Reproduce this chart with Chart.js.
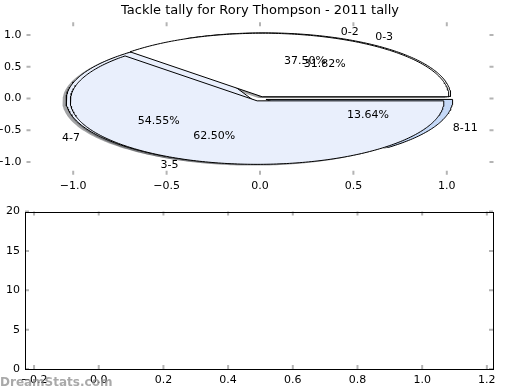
<!DOCTYPE html>
<html>
<head>
<meta charset="utf-8">
<script src="https://cdn.jsdelivr.net/npm/chart.js@4.4.1/dist/chart.umd.min.js"></script>
<style>
  html, body { margin: 0; padding: 0; background: #fff; }
  #wrap { position: relative; width: 520px; height: 390px; }
  canvas { position: absolute; left: 0; }
  #pieChart { top: 0; }
  #emptyChart { top: 200px; }
</style>
</head>
<body>
<div id="wrap">
  <canvas id="pieChart" width="520" height="200"></canvas>
  <canvas id="emptyChart" width="520" height="190"></canvas>
</div>
<script>
const TITLE = "Tackle tally for Rory Thompson - 2011 tally";
const WATERMARK = "DreamStats.com";

// pie drawn on top
const tallyLabelsA = ["0-2", "3-5"];
const tallyCountsA = [3, 5];
// pie drawn underneath
const tallyLabelsB = ["0-3", "4-7", "8-11"];
const tallyCountsB = [7, 12, 3];

const pieXTicks = [-1.0, -0.5, 0.0, 0.5, 1.0];
const pieYTicks = [-1.0, -0.5, 0.0, 0.5, 1.0];
const emptyXTicks = [-0.2, 0.0, 0.2, 0.4, 0.6, 0.8, 1.0, 1.2];
const emptyYTicks = [0, 5, 10, 15, 20];

const FONT = "'DejaVu Sans', sans-serif";
const TICK_GREY = "#b4b4b4";
const pieStyleA = { colors: ["#ffffff", "#e9effc"], explode: [0.03, 0.04] };
const pieStyleB = { colors: ["#ffffff", "#e9effc", "#c5d9f8"], explode: [0.04, 0.045, 0.035] };

function wedges(counts, labels, style) {
  const total = counts.reduce((a, b) => a + b, 0);
  let start = 0;
  return counts.map((count, i) => {
    const share = count / total;
    const end = start + share * 360;
    const mid = ((start + end) / 2) * Math.PI / 180;
    const w = {
      label: labels[i], share, start, end, mid,
      cx: style.explode[i] * Math.cos(mid),
      cy: style.explode[i] * Math.sin(mid),
      color: style.colors[i],
    };
    start = end;
    return w;
  });
}

// wedge outline in data units, the scales turn it into pixels
function outline(w, dx = 0, dy = 0) {
  const ox = w.cx + dx, oy = w.cy + dy;
  const pts = [{ x: ox, y: oy }];
  const steps = Math.max(2, Math.ceil(w.end - w.start));
  for (let k = 0; k <= steps; k++) {
    const a = (w.start + (w.end - w.start) * k / steps) * Math.PI / 180;
    pts.push({ x: ox + Math.cos(a), y: oy + Math.sin(a) });
  }
  pts.push({ x: ox, y: oy });
  return pts;
}

function shadowColor(hex) {
  const n = parseInt(hex.slice(1), 16);
  const r = Math.round(((n >> 16) & 255) * 0.3);
  const g = Math.round(((n >> 8) & 255) * 0.3);
  const b = Math.round((n & 255) * 0.3);
  return `rgba(${r}, ${g}, ${b}, 0.5)`;
}

const wedgesA = wedges(tallyCountsA, tallyLabelsA, pieStyleA);
const wedgesB = wedges(tallyCountsB, tallyLabelsB, pieStyleB);

const shadowSet = (w) => ({
  data: outline(w, -0.02, -0.02),
  showLine: true,
  fill: "shape",
  backgroundColor: shadowColor(w.color),
  borderWidth: 0,
  pointRadius: 0,
});

const wedgeSet = (w) => ({
  data: outline(w),
  showLine: true,
  fill: "shape",
  backgroundColor: w.color,
  borderColor: "#000",
  borderWidth: 1,
  pointRadius: 0,
});

// bottom to top: all shadows, then pie B, then pie A
const layers = [
  ...wedgesB.map(shadowSet),
  ...wedgesA.map(shadowSet),
  ...wedgesB.map(wedgeSet),
  ...wedgesA.map(wedgeSet),
].map((ds, i) => ({ ...ds, order: -i }));

const fmt1 = (v) => (v < 0 ? "\u2212" : "") + Math.abs(v).toFixed(1);

const innerTicks = {
  id: "innerTicks",
  afterDraw(chart, args, opts) {
    const { ctx, chartArea: a, scales: { x, y } } = chart;
    ctx.save();
    ctx.strokeStyle = TICK_GREY;
    ctx.lineWidth = 2;
    ctx.beginPath();
    for (const t of x.ticks) {
      const px = x.getPixelForValue(t.value);
      ctx.moveTo(px, a.top); ctx.lineTo(px, a.top + 4);
      ctx.moveTo(px, a.bottom); ctx.lineTo(px, a.bottom - 4);
    }
    for (const t of y.ticks) {
      const py = y.getPixelForValue(t.value);
      ctx.moveTo(a.left, py); ctx.lineTo(a.left + 4, py);
      ctx.moveTo(a.right, py); ctx.lineTo(a.right - 4, py);
    }
    ctx.stroke();
    if (opts.frame) {
      ctx.strokeStyle = "#000";
      ctx.lineWidth = 1;
      ctx.strokeRect(Math.round(a.left) + 0.5, Math.round(a.top) + 0.5,
        Math.round(a.right - a.left), Math.round(a.bottom - a.top));
    }
    ctx.restore();
  },
};

const pieText = {
  id: "pieText",
  afterDatasetsDraw(chart) {
    const { ctx, scales: { x, y } } = chart;
    ctx.save();
    ctx.font = `11px ${FONT}`;
    ctx.fillStyle = "#000";
    ctx.textBaseline = "middle";
    for (const w of [...wedgesB, ...wedgesA]) {
      const lx = w.cx + 1.1 * Math.cos(w.mid);
      const ly = w.cy + 1.1 * Math.sin(w.mid);
      ctx.textAlign = lx > 0 ? "left" : "right";
      ctx.fillText(w.label, x.getPixelForValue(lx), y.getPixelForValue(ly));
      const px = w.cx + 0.6 * Math.cos(w.mid);
      const py = w.cy + 0.6 * Math.sin(w.mid);
      ctx.textAlign = "center";
      ctx.fillText((w.share * 100).toFixed(2) + "%", x.getPixelForValue(px), y.getPixelForValue(py));
    }
    ctx.restore();
  },
};

const watermark = {
  id: "watermark",
  afterDraw(chart) {
    const { ctx } = chart;
    ctx.save();
    ctx.font = `bold 12px ${FONT}`;
    ctx.fillStyle = "rgba(140, 140, 140, 0.75)";
    ctx.textBaseline = "alphabetic";
    ctx.textAlign = "left";
    ctx.fillText(WATERMARK, 0, 186);
    ctx.restore();
  },
};

const tickFont = { family: FONT, size: 11 };

function axis(min, max, values, fmt, fit) {
  return {
    type: "linear",
    min,
    max,
    grid: { display: false, drawTicks: false },
    border: { display: false },
    afterBuildTicks: (s) => { s.ticks = values.map((v) => ({ value: v })); },
    afterFit: fit,
    ticks: { padding: 5, color: "#000", font: tickFont, autoSkip: false, maxRotation: 0, callback: fmt },
  };
}

// blank right-hand strip so the title centres on the whole figure
function spacer(width) {
  return {
    type: "linear",
    position: "right",
    display: true,
    grid: { display: false, drawTicks: false },
    border: { display: false },
    ticks: { display: false },
    afterFit: (s) => { s.width = width; },
  };
}

new Chart(document.getElementById("pieChart"), {
  type: "scatter",
  data: { datasets: layers },
  plugins: [pieText, innerTicks],
  options: {
    responsive: false,
    animation: false,
    events: [],
    layout: { padding: 0 },
    plugins: {
      legend: { display: false },
      tooltip: { enabled: false },
      title: {
        display: true,
        text: TITLE,
        color: "#000",
        font: { family: FONT, size: 13, weight: "normal" },
        padding: { top: 2.5, bottom: 4.2 },
      },
      innerTicks: { frame: false },
    },
    scales: {
      x: axis(-1.25, 1.25, pieXTicks, fmt1, (s) => { s.height = 25.3; }),
      y: axis(-1.2, 1.2, pieYTicks, fmt1, (s) => { s.width = 26.5; }),
      pad: spacer(26.5),
    },
  },
});

new Chart(document.getElementById("emptyChart"), {
  type: "scatter",
  data: { datasets: [] },
  plugins: [innerTicks, watermark],
  options: {
    responsive: false,
    animation: false,
    events: [],
    layout: { padding: { left: 0, right: 27, top: 10, bottom: 0 } },
    plugins: {
      legend: { display: false },
      tooltip: { enabled: false },
      innerTicks: { frame: true },
    },
    scales: {
      x: axis(-0.228, 1.219, emptyXTicks, fmt1, (s) => { s.height = 21; }),
      y: axis(0, 20, emptyYTicks, (v) => String(v), (s) => { s.width = 25; }),
    },
  },
});
</script>
</body>
</html>
